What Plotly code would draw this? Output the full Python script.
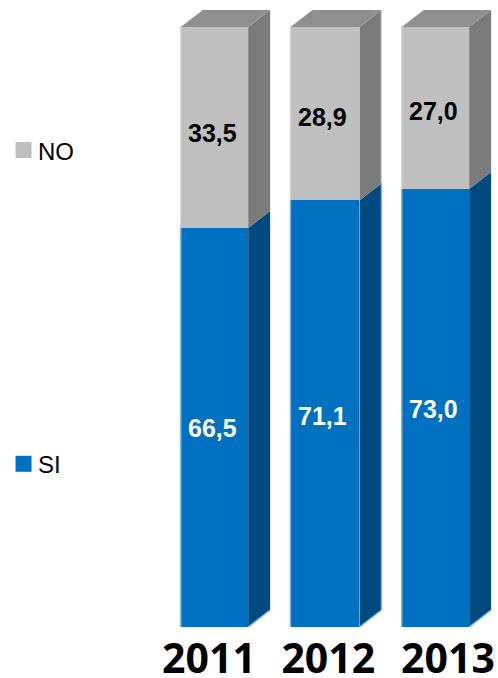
import plotly.graph_objects as go

years = ["2011", "2012", "2013"]
si_values = [66.5, 71.1, 73.0]
no_values = [33.5, 28.9, 27.0]
si_labels = ["66,5", "71,1", "73,0"]
no_labels = ["33,5", "28,9", "27,0"]

X = [0, 1, 2]
WIDTH = [0.61, 0.625, 0.61]
DX, DY = 0.199, 2.83
BLUE, BLUE_SIDE, BLUE_EDGE = "#0070C0", "#004A80", "#7FB5DE"
GREY, GREY_SIDE, GREY_TOP, GREY_EDGE = "#BFBFBF", "#7B7B7B", "#8F8F8F", "#D4D4D4"


def poly(segments):
    xs, ys = [], []
    for seg in segments:
        xs += [p[0] for p in seg] + [seg[0][0], None]
        ys += [p[1] for p in seg] + [seg[0][1], None]
    return xs, ys


def side(lo, hi):
    segs = []
    for x, w, a, b in zip(X, WIDTH, lo, hi):
        r = x + w / 2
        segs.append([(r, a), (r + DX, a + DY), (r + DX, b + DY), (r, b)])
    return poly(segs)


def face(xs, ys, color):
    return go.Scatter(x=xs, y=ys, mode="lines", fill="toself", fillcolor=color,
                      line=dict(width=0, color=color), hoverinfo="skip", showlegend=False)


def rim(xs, ys, col):
    return go.Scatter(x=xs, y=ys, mode="lines", line=dict(color=col, width=1.5),
                      hoverinfo="skip", showlegend=False)


tops = [a + b for a, b in zip(si_values, no_values)]
zero = [0, 0, 0]

fig = go.Figure()
fig.add_bar(x=X, y=si_values, width=WIDTH, name="SI", marker=dict(color=BLUE, line_width=0), showlegend=False)
fig.add_bar(x=X, y=no_values, width=WIDTH, name="NO", marker=dict(color=GREY, line_width=0), showlegend=False)

fig.add_trace(face(*side(zero, si_values), BLUE_SIDE))
fig.add_trace(face(*side(si_values, tops), GREY_SIDE))
fig.add_trace(face(*poly([
    [(x - w / 2, t), (x + w / 2, t), (x + w / 2 + DX, t + DY), (x - w / 2 + DX, t + DY)]
    for x, w, t in zip(X, WIDTH, tops)
]), GREY_TOP))

# light edges on the left of every bar and on the lower rim of the side face
for lo, hi, col in [(zero, si_values, BLUE_EDGE), (si_values, tops, GREY_EDGE)]:
    xs, ys = [], []
    for x, w, a, b in zip(X, WIDTH, lo, hi):
        xs += [x - w / 2, x - w / 2, None]
        ys += [a, b, None]
    fig.add_trace(rim(xs, ys, col))
xs, ys = [], []
for x, w in zip(X, WIDTH):
    xs += [x + w / 2, x + w / 2 + DX, None]
    ys += [0, DY, None]
fig.add_trace(rim(xs, ys, BLUE_EDGE))

# the middle column also shows a light rim on the outer edge of its side face
mid_right = X[1] + WIDTH[1] / 2 + DX
fig.add_trace(rim([mid_right, mid_right], [DY, si_values[1] + DY], BLUE_EDGE))
fig.add_trace(rim([mid_right, mid_right], [si_values[1] + DY, tops[1] + DY], GREY_EDGE))

# legend drawn at the far left, level with each series
for name, col, ly in [("NO", GREY, 79.5), ("SI", BLUE, 27.2)]:
    fig.add_trace(go.Scatter(x=[-1.728], y=[ly], mode="markers",
                             marker=dict(symbol="square", size=16, color=col, line_width=0),
                             hoverinfo="skip", showlegend=False))
    fig.add_annotation(x=-1.728, y=ly, text=name, showarrow=False, xanchor="left", xshift=12, yshift=-1,
                       font=dict(family="Liberation Sans", size=24, color="#000000"))

for x, w, base, val, lab, col, shift, dx in [
    *[(x, w, 0, v, l, "#FFFFFF", s, d) for x, w, v, l, s, d in zip(X, WIDTH, si_values, si_labels, [0, -2, -1], [-1.5, -2.5, -1.5])],
    *[(x, w, b, v, l, "#000000", s, d) for x, w, b, v, l, s, d in zip(X, WIDTH, si_values, no_values, no_labels, [-5, -3, -3], [-1.5, -2.5, -1.5])],
]:
    fig.add_annotation(x=x, y=base + val / 2, text=f"<b>{lab}</b>", showarrow=False, xshift=dx, yshift=shift,
                       font=dict(family="Liberation Sans", size=25, color=col))

fig.update_layout(
    barmode="stack", width=498, height=678, margin=dict(l=0, r=0, t=0, b=51, autoexpand=False),
    paper_bgcolor="#FFFFFF", plot_bgcolor="#FFFFFF", showlegend=False,
    xaxis=dict(range=[-1.941, 2.566], showgrid=False, zeroline=False, showline=False, ticks="", automargin=False,
               tickmode="array", tickvals=[-0.05, 1.03, 2.113], ticktext=years, ticklabelstandoff=4,
               tickfont=dict(family="Open Sans", size=41, color="#000000", weight="bold")),
    yaxis=dict(range=[0, 104.5], showgrid=False, zeroline=False, showline=False, ticks="", showticklabels=False,
               automargin=False),
)
fig.write_html("out.html", config={"displayModeBar": False},
               post_script="document.body.style.margin='0';document.documentElement.style.overflow='hidden';")
